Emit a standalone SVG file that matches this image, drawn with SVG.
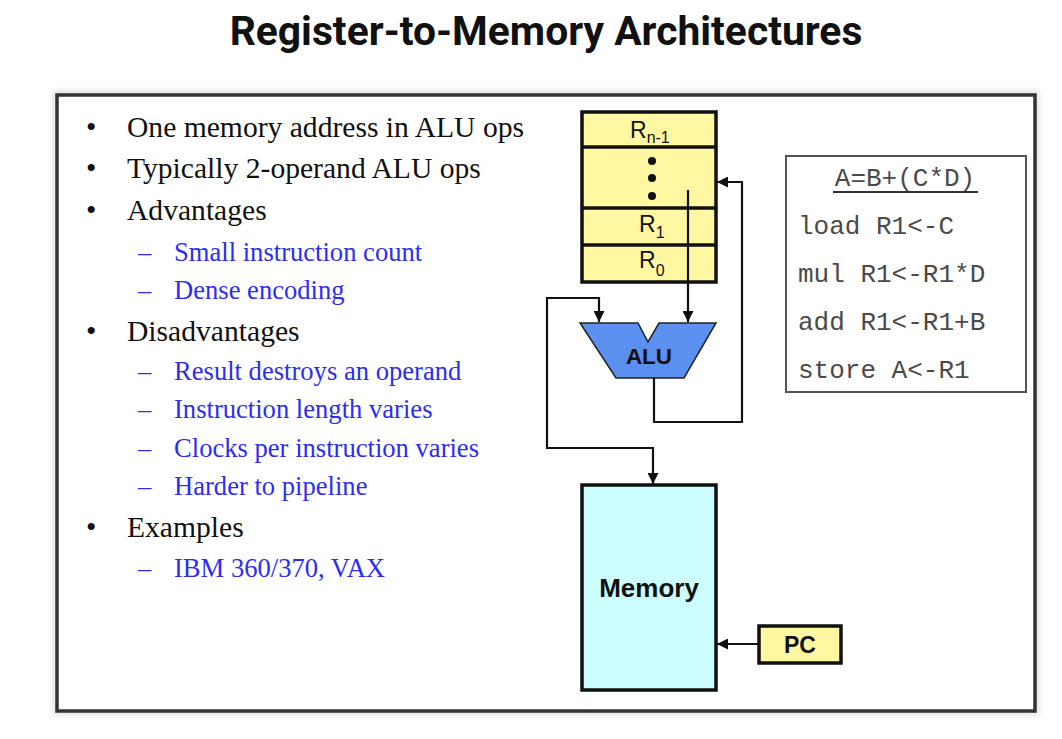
<svg xmlns="http://www.w3.org/2000/svg" width="1062" height="739" viewBox="0 0 1062 739">
<style>
.title{font-family:Roboto,"Liberation Sans",sans-serif;font-weight:700;font-size:40.8px;fill:#111;}
.main{font-family:"Liberation Serif","Times New Roman",serif;font-size:29.6px;fill:#111;}
.sub{font-family:"Liberation Serif","Times New Roman",serif;font-size:26.6px;fill:#2d2df2;}
.lbl{font-family:"Liberation Sans",Arial,sans-serif;fill:#111;}
.code{font-family:"Liberation Mono","Courier New",monospace;font-size:26px;fill:#4a4a4a;}
.box{stroke:#111;stroke-width:3.5;}
.wire{fill:none;stroke:#111;stroke-width:2.2;}
</style>
<defs>
<marker id="ah" viewBox="0 0 10 10" refX="10" refY="5" markerWidth="5" markerHeight="5" orient="auto-start-reverse" markerUnits="strokeWidth">
<path d="M0,0 L10,5 L0,10 z" fill="#111"/>
</marker>
<filter id="sh" x="-5%" y="-5%" width="110%" height="110%">
<feGaussianBlur stdDeviation="3"/>
</filter>
</defs>
<rect width="1062" height="739" fill="#fff"/>
<text class="title" x="546" y="45" text-anchor="middle">Register-to-Memory Architectures</text>
<g id="frame">
<rect x="57" y="95" width="978" height="616" fill="none" stroke="#000" stroke-opacity="0.12" stroke-width="8" filter="url(#sh)"/>
<rect x="57" y="95" width="978" height="616" fill="#fff" stroke="#333" stroke-width="3.5"/>
</g>
<g id="bullets">
<text class="main" x="86" y="137">•</text><text class="main" x="127" y="137">One memory address in ALU ops</text>
<text class="main" x="86" y="178">•</text><text class="main" x="127" y="178">Typically 2-operand ALU ops</text>
<text class="main" x="86" y="220">•</text><text class="main" x="127" y="220">Advantages</text>
<text class="sub" x="138" y="261">–</text><text class="sub" x="174" y="261">Small instruction count</text>
<text class="sub" x="138" y="299">–</text><text class="sub" x="174" y="299">Dense encoding</text>
<text class="main" x="86" y="341">•</text><text class="main" x="127" y="341">Disadvantages</text>
<text class="sub" x="138" y="380">–</text><text class="sub" x="174" y="380">Result destroys an operand</text>
<text class="sub" x="138" y="418">–</text><text class="sub" x="174" y="418">Instruction length varies</text>
<text class="sub" x="138" y="457">–</text><text class="sub" x="174" y="457">Clocks per instruction varies</text>
<text class="sub" x="138" y="495">–</text><text class="sub" x="174" y="495">Harder to pipeline</text>
<text class="main" x="86" y="537">•</text><text class="main" x="127" y="537">Examples</text>
<text class="sub" x="138" y="577">–</text><text class="sub" x="174" y="577">IBM 360/370, VAX</text>
</g>
<g id="registers">
<rect class="box" x="582" y="112" width="134" height="170" fill="#fff7a1"/>
<line class="box" x1="582" y1="147" x2="716" y2="147"/>
<line class="box" x1="582" y1="208" x2="716" y2="208"/>
<line class="box" x1="582" y1="245" x2="716" y2="245"/>
<text class="lbl" x="630" y="138" font-size="23">R<tspan font-size="16" dy="5">n-1</tspan></text>
<circle cx="652" cy="161" r="4" fill="#111"/>
<circle cx="652" cy="178" r="4" fill="#111"/>
<circle cx="652" cy="196" r="4" fill="#111"/>
<text class="lbl" x="639" y="232" font-size="23">R<tspan font-size="16" dy="6">1</tspan></text>
<text class="lbl" x="639" y="268" font-size="23">R<tspan font-size="16" dy="8">0</tspan></text>
</g>
<g id="alu">
<path d="M580,323 L638,323 L648,342 L659,323 L716,323 L684,378 L616,378 Z" fill="#5b8ff0" stroke="#222" stroke-width="1.5"/>
<text class="lbl" x="649" y="364" font-size="22.5" font-weight="700" text-anchor="middle">ALU</text>
</g>
<g id="memory">
<rect class="box" x="582" y="485" width="134" height="205" fill="#ccfeff"/>
<text class="lbl" x="649" y="597" font-size="26" font-weight="700" text-anchor="middle">Memory</text>
</g>
<g id="pc">
<rect class="box" x="759" y="626" width="82" height="37" fill="#fff7a1"/>
<text class="lbl" x="800" y="653" font-size="23" font-weight="700" text-anchor="middle">PC</text>
</g>
<g id="code">
<rect x="786" y="156" width="240" height="236" fill="#fff" stroke="#555" stroke-width="2"/>
<text class="code" x="905" y="186" text-anchor="middle">A=B+(C*D)</text>
<line x1="833" y1="192" x2="978" y2="192" stroke="#333" stroke-width="1.8"/>
<text class="code" x="798" y="234">load R1&lt;-C</text>
<text class="code" x="798" y="282">mul R1&lt;-R1*D</text>
<text class="code" x="798" y="330">add R1&lt;-R1+B</text>
<text class="code" x="798" y="378">store A&lt;-R1</text>
</g>
<g id="connectors">
<polyline class="wire" points="688,190 688,322" marker-end="url(#ah)"/>
<polyline class="wire" points="654,378 654,422 742,422 742,182 717,182" marker-end="url(#ah)"/>
<polyline class="wire" points="599,322 599,298 547,298 547,448 653,448 653,484" marker-start="url(#ah)" marker-end="url(#ah)"/>
<polyline class="wire" points="759,644 717,644" marker-end="url(#ah)"/>
</g>
</svg>
